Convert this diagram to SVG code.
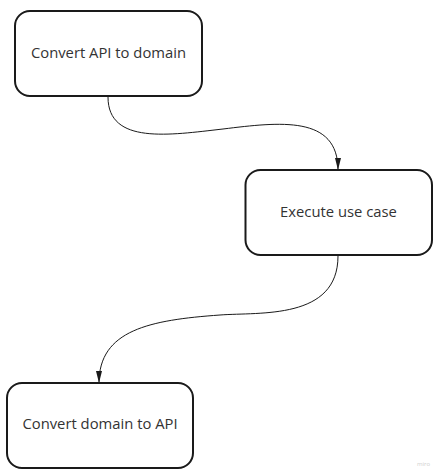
<svg xmlns="http://www.w3.org/2000/svg" width="442" height="474" viewBox="0 0 442 474">
<defs>
<style>
.box{fill:#ffffff;stroke:#1a1a1a;stroke-width:2}
.lbl{font-family:"Open Sans","Liberation Sans",sans-serif;font-size:14.8px;fill:#333333;text-anchor:middle}
.edge{fill:none;stroke:#1a1a1a;stroke-width:1}
.wm{font-family:"Open Sans","Liberation Sans",sans-serif;font-size:6px;fill:#d0d0d0}
</style>
<marker id="arr" viewBox="0 0 12 6" refX="12" refY="3" markerWidth="12" markerHeight="6" markerUnits="userSpaceOnUse" orient="auto">
<path d="M0,0 L12,3 L0,6 Z" fill="#1a1a1a"/>
</marker>
</defs>
<rect width="442" height="474" fill="#ffffff"/>
<g id="connectors">
<path class="edge" d="M108,97 C108,145 170,135 223,129 C280,122 338,115 338,170" marker-end="url(#arr)"/>
<path class="edge" d="M338,256 C338,320 260,312 220,315 C150,320 99,330 99,383" marker-end="url(#arr)"/>
</g>
<g id="node-api-to-domain">
<rect class="box" x="15" y="11" width="187" height="85" rx="15"/>
<text class="lbl" x="108.5" y="57.5">Convert API to domain</text>
</g>
<g id="node-execute">
<rect class="box" x="245.5" y="170" width="186.5" height="85" rx="15"/>
<text class="lbl" x="338.5" y="217">Execute use case</text>
</g>
<g id="node-domain-to-api">
<rect class="box" x="7" y="383" width="186" height="85" rx="15"/>
<text class="lbl" x="100" y="429">Convert domain to API</text>
</g>
<text class="wm" x="417" y="466">miro</text>
</svg>
